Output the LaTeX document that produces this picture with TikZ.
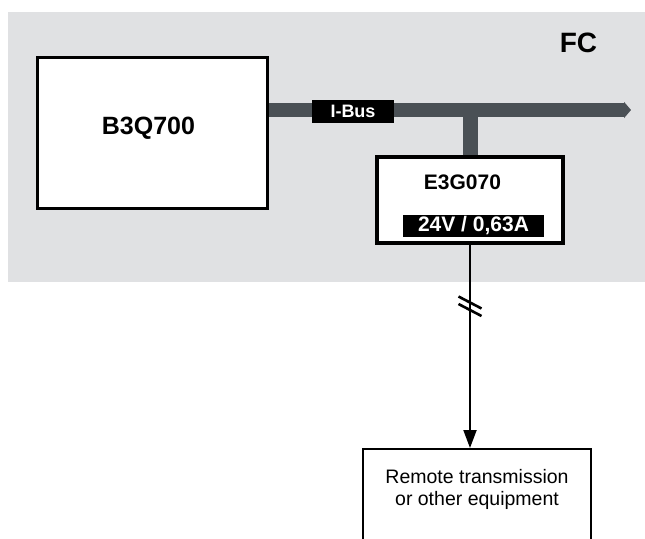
\documentclass[tikz,border=0pt]{standalone}
\usepackage{fontspec}
\setmainfont{Liberation Sans}
\usetikzlibrary{calc, positioning}
\usetikzlibrary{arrows.meta}

\definecolor{fcgray}{RGB}{224,225,227}
\definecolor{busgray}{RGB}{74,80,85}

\tikzset{
  unit/.style={draw=black,line width=2.6pt,fill=white,inner sep=0pt},
  tag/.style={fill=black,text=white,font=\bfseries\fontsize{21}{24}\selectfont,inner sep=0pt},
  bus/.style={busgray,line width=14pt},
  wire/.style={black,line width=2pt},
}

\begin{document}
\begin{tikzpicture}[x=1pt,y=-1pt]
\useasboundingbox (0,0) rectangle (645,538);
\clip (0,0) rectangle (645,538);

\fill[fcgray] (8,12) rectangle (645,282);
\node[font=\bfseries\fontsize{28}{32}\selectfont] (fc) at (578.5,43) {FC};

\node[unit,minimum width=230,minimum height=151] (b3q) at (152.5,133) {};
\node[font=\bfseries\fontsize{25}{28}\selectfont] (b3qtext) at (148.5,128) {B3Q700};

\coordinate (busend) at (631,110);
\draw[bus,-{Triangle[length=7pt 0,width=16pt 0]}] (b3q.east |- busend) -- (busend);
\node[tag,minimum width=82,minimum height=23,font=\bfseries\fontsize{18}{20}\selectfont] (ibus) at (353,111.5) {I-Bus};

\node[unit,minimum width=185,minimum height=85] (e3g) at (470,200) {};
\draw[bus,line width=15pt] (e3g.north |- busend) -- (e3g.north);
\draw[unit,fill=none] (e3g.north west) rectangle (e3g.south east);
\node[font=\bfseries\fontsize{21}{24}\selectfont] (e3gtext) at (462.5,182) {E3G070};
\node[tag,minimum width=141,minimum height=22] (supply) at (473.5,226) {24V / 0,63A};

\node[unit,line width=2pt,anchor=north,minimum width=228,minimum height=140] (remote) at (477,448) {};
\node[font=\fontsize{19.5}{22}\selectfont,align=center] (remotetext) at (477,489)
  {Remote transmission\\or other equipment};

\draw[wire,-{Stealth[length=18pt 0,width=13pt 0,inset=0pt]}] (e3g.south) -- (e3g.south |- remote.north)
  coordinate[pos=0.307] (brk);
\draw[wire,line width=2.6pt] ($(brk)+(-11.5,-10)$) -- ++(23,12);
\draw[wire,line width=2.6pt] ($(brk)+(-11.5,-2.5)$) -- ++(23,12);
\end{tikzpicture}
\end{document}
